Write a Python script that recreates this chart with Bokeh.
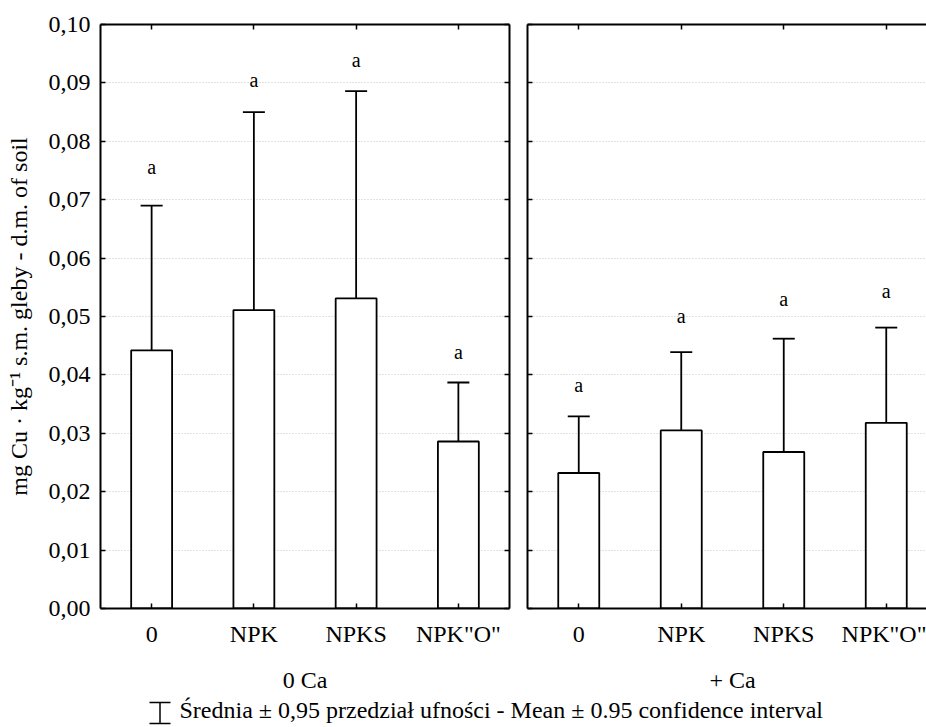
from bokeh.plotting import figure
from bokeh.layouts import column, row
from bokeh.models import Range1d, FixedTicker, LinearAxis, Whisker, TeeHead, ColumnDataSource
from bokeh.core.properties import value
from bokeh.embed import file_html
from bokeh.resources import INLINE

# ---------------- data ----------------
categories = ["0", "NPK", "NPKS", 'NPK"O"']
groups = ["0 Ca", "+ Ca"]

mean_0ca = [0.0442, 0.0511, 0.0531, 0.0286]
upper_0ca = [0.0690, 0.0850, 0.0886, 0.0387]
lower_0ca = [0.0195, 0.0173, 0.0178, 0.0185]
letter_y_0ca = [0.0747, 0.0897, 0.0930, 0.0430]

mean_ca = [0.0232, 0.0305, 0.0268, 0.0318]
upper_ca = [0.0329, 0.0439, 0.0462, 0.0481]
lower_ca = [0.0134, 0.0171, 0.0074, 0.0156]
letter_y_ca = [0.0375, 0.0493, 0.0521, 0.0535]

letters = ["a", "a", "a", "a"]

y_ticks = [0.00, 0.01, 0.02, 0.03, 0.04, 0.05, 0.06, 0.07, 0.08, 0.09, 0.10]
y_tick_labels = ["0,00", "0,01", "0,02", "0,03", "0,04", "0,05",
                 "0,06", "0,07", "0,08", "0,09", "0,10"]

y_title = "mg Cu \u00b7 kg\u207b\u00b9 s.m. gleby - d.m. of soil"
legend_text = "\u015arednia \u00b1 0,95 przedzia\u0142 ufno\u015bci - Mean \u00b1 0.95 confidence interval"

FONT = "Liberation Serif"
x_pos = [i + 0.5 for i in range(len(categories))]

PANEL_H = 655
LEFT_W, RIGHT_W = 518, 408


def style_axis(ax, labels=True):
    ax.axis_line_color = "black"
    ax.axis_line_width = 2
    ax.major_tick_in = 5
    ax.major_tick_out = 0
    ax.major_tick_line_color = "black"
    ax.major_tick_line_width = 1.5
    ax.minor_tick_line_color = None
    if labels:
        ax.major_label_text_font = FONT
        ax.major_label_text_font_size = "24px"
        ax.major_label_text_color = "black"
    else:
        ax.major_label_text_font_size = "1px"
        ax.major_label_text_color = None
        ax.major_label_standoff = 0


def make_panel(means, uppers, lowers, letter_y, width, border_left, border_right,
               x_end, first):
    p = figure(width=width, height=PANEL_H, x_range=Range1d(0, x_end), y_range=Range1d(0, 0.1),
               output_backend="svg", toolbar_location=None,
               min_border_left=border_left, min_border_right=border_right,
               min_border_top=24, min_border_bottom=PANEL_H - 608)
    p.outline_line_color = None
    p.background_fill_color = "white"
    p.border_fill_color = "white"
    p.xgrid.visible = False
    p.ygrid.ticker = FixedTicker(ticks=y_ticks)
    p.ygrid.grid_line_color = "#c4c4c4"
    p.ygrid.grid_line_dash = "1 2"
    p.ygrid.grid_line_width = 1

    # bottom axis
    xa = p.xaxis[0]
    xa.ticker = FixedTicker(ticks=x_pos)
    xa.major_label_overrides = {x: c for x, c in zip(x_pos, categories)}
    style_axis(xa)
    xa.major_label_standoff = 12

    # left axis
    ya = p.yaxis[0]
    ya.ticker = FixedTicker(ticks=y_ticks)
    if first:
        ya.major_label_overrides = {t: l for t, l in zip(y_ticks, y_tick_labels)}
        style_axis(ya)
        ya.major_label_standoff = 10
        ya.axis_label = y_title
        ya.axis_label_text_font = FONT
        ya.axis_label_text_font_size = "24px"
        ya.axis_label_text_font_style = "normal"
        ya.axis_label_text_color = "black"
        ya.axis_label_standoff = 14
    else:
        style_axis(ya, labels=False)

    # top axis (ticks only)
    top = LinearAxis(ticker=FixedTicker(ticks=x_pos))
    style_axis(top, labels=False)
    p.add_layout(top, "above")

    if first:
        right = LinearAxis(ticker=FixedTicker(ticks=y_ticks))
        style_axis(right, labels=False)
        p.add_layout(right, "right")

    src = ColumnDataSource(dict(x=x_pos, mean=means, upper=uppers, lower=lowers,
                                ly=letter_y, letter=letters))
    p.vbar(x="x", top="mean", bottom=0, width=0.4, source=src,
           fill_color="white", line_color="black", line_width=1.8)
    w = Whisker(base="x", upper="upper", lower="lower", source=src, dimension="height",
                line_color="black", line_width=1.8,
                upper_head=TeeHead(size=22, line_color="black", line_width=1.8),
                lower_head=TeeHead(size=22, line_color="black", line_width=1.8))
    p.add_layout(w)
    p.text(x="x", y="ly", text="letter", source=src, text_align="center",
           text_baseline="alphabetic", y_offset=-5, text_font=value(FONT),
           text_font_size="20px", text_color="black")
    return p


left = make_panel(mean_0ca, upper_0ca, lower_0ca, letter_y_0ca,
                  width=LEFT_W, border_left=100, border_right=9, x_end=4.0, first=True)
right = make_panel(mean_ca, upper_ca, lower_ca, letter_y_ca,
                   width=RIGHT_W, border_left=9, border_right=0, x_end=4 * 399 / 410, first=False)

# bottom strip: group labels and legend (pixel coordinates of the strip)
STRIP_H = 727 - PANEL_H
lg = figure(width=926, height=STRIP_H, x_range=Range1d(0, 926), y_range=Range1d(STRIP_H, 0),
            output_backend="svg", toolbar_location=None, min_border=0,
            x_axis_location=None, y_axis_location=None)
lg.outline_line_color = None
lg.grid.visible = False
lg.text(x=[304.5, 732], y=[690 - PANEL_H, 690 - PANEL_H], text=groups,
        text_font=value(FONT), text_font_size="24px", text_align="center",
        text_baseline="alphabetic", y_offset=-11, text_color="black")
lg.segment(x0=[159.5, 149, 149], y0=[702 - PANEL_H, 702 - PANEL_H, 723 - PANEL_H],
           x1=[159.5, 170, 170], y1=[723 - PANEL_H, 702 - PANEL_H, 723 - PANEL_H],
           line_color="black", line_width=1.5)
lg.text(x=[179], y=[718 - PANEL_H], text=[legend_text], text_font=value(FONT),
        text_font_size="24px", text_baseline="alphabetic", y_offset=-9, text_color="black")

layout = column(row(left, right), lg)
open("out.html", "w").write(file_html(layout, INLINE))
